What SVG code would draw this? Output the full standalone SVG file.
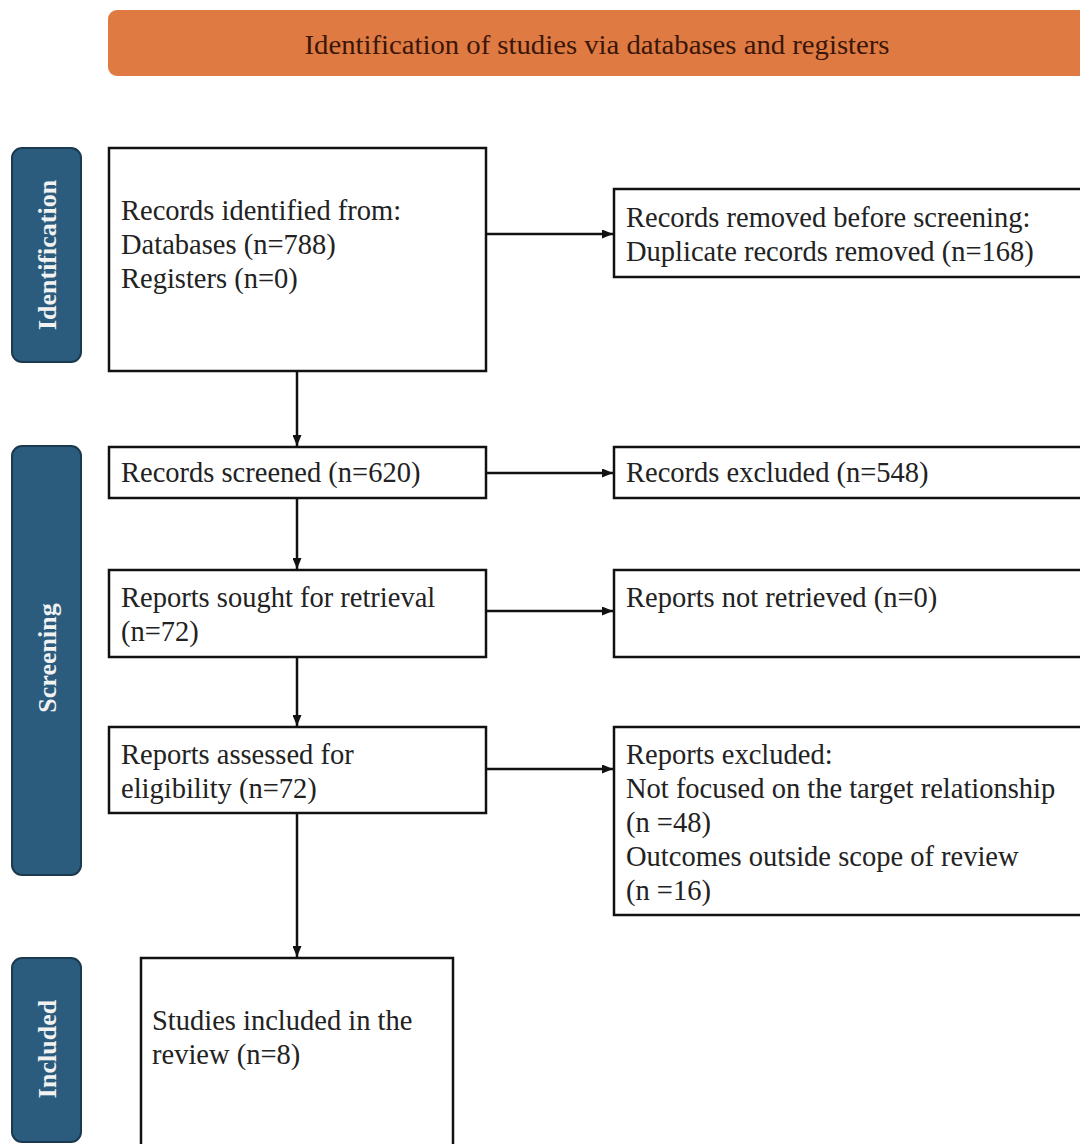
<svg xmlns="http://www.w3.org/2000/svg" width="1080" height="1144" viewBox="0 0 1080 1144">
<defs>
<marker id="ah" markerWidth="11" markerHeight="9" refX="11" refY="4.5" orient="auto" markerUnits="userSpaceOnUse">
<path d="M0,0 L11,4.5 L0,9 Z" fill="#111"/>
</marker>
</defs>
<style>
.box{fill:#fff;stroke:#111;stroke-width:2.5}
.t{font-family:"Liberation Serif","Times New Roman",serif;font-size:28.5px;fill:#222}
.side{fill:#2B5C7E;stroke:#1B3A50;stroke-width:2}
.st{font-family:"Liberation Serif","Times New Roman",serif;font-size:26px;fill:#f2f2f2;font-weight:bold;text-anchor:middle}
.c{stroke:#111;stroke-width:2.5;fill:none;marker-end:url(#ah)}
</style>
<rect width="1080" height="1144" fill="#fff"/>
<g id="banner">
<rect x="108" y="10" width="990" height="66" rx="9" fill="#DF7A43"/>
<text x="597" y="54" text-anchor="middle" font-family="'Liberation Serif','Times New Roman',serif" font-size="28" fill="#3A1608" textLength="585" lengthAdjust="spacingAndGlyphs">Identification of studies via databases and registers</text>
</g>
<g id="phase-identification">
<rect class="side" x="12" y="148" width="69" height="214" rx="10"/>
<text class="st" transform="translate(56,255) rotate(-90)">Identification</text>
</g>
<g id="phase-screening">
<rect class="side" x="12" y="446" width="69" height="429" rx="10"/>
<text class="st" transform="translate(56,658) rotate(-90)">Screening</text>
</g>
<g id="phase-included">
<rect class="side" x="12" y="958" width="69" height="184" rx="10"/>
<text class="st" transform="translate(56,1049) rotate(-90)">Included</text>
</g>
<g id="records-identified">
<rect class="box" x="109" y="148" width="377" height="223"/>
<text class="t" x="121" y="220">Records identified from:</text>
<text class="t" x="121" y="254">Databases (n=788)</text>
<text class="t" x="121" y="288">Registers (n=0)</text>
</g>
<g id="records-removed">
<rect class="box" x="614" y="189" width="480" height="88"/>
<text class="t" x="626" y="227">Records removed before screening:</text>
<text class="t" x="626" y="261">Duplicate records removed (n=168)</text>
</g>
<g id="records-screened">
<rect class="box" x="109" y="447" width="377" height="51"/>
<text class="t" x="121" y="482">Records screened (n=620)</text>
</g>
<g id="records-excluded">
<rect class="box" x="614" y="447" width="480" height="51"/>
<text class="t" x="626" y="482">Records excluded (n=548)</text>
</g>
<g id="reports-sought">
<rect class="box" x="109" y="570" width="377" height="87"/>
<text class="t" x="121" y="607">Reports sought for retrieval</text>
<text class="t" x="121" y="641">(n=72)</text>
</g>
<g id="reports-not-retrieved">
<rect class="box" x="614" y="570" width="480" height="87"/>
<text class="t" x="626" y="607">Reports not retrieved (n=0)</text>
</g>
<g id="reports-assessed">
<rect class="box" x="109" y="727" width="377" height="86"/>
<text class="t" x="121" y="764">Reports assessed for</text>
<text class="t" x="121" y="798">eligibility (n=72)</text>
</g>
<g id="reports-excluded">
<rect class="box" x="614" y="727" width="480" height="188"/>
<text class="t" x="626" y="764">Reports excluded:</text>
<text class="t" x="626" y="798">Not focused on the target relationship</text>
<text class="t" x="626" y="832">(n =48)</text>
<text class="t" x="626" y="866">Outcomes outside scope of review</text>
<text class="t" x="626" y="900">(n =16)</text>
</g>
<g id="studies-included">
<rect class="box" x="141" y="958" width="312" height="200"/>
<text class="t" x="152" y="1030">Studies included in the</text>
<text class="t" x="152" y="1064">review (n=8)</text>
</g>
<g id="connectors">
<line class="c" x1="297" y1="371" x2="297" y2="446"/>
<line class="c" x1="297" y1="498" x2="297" y2="569"/>
<line class="c" x1="297" y1="657" x2="297" y2="726"/>
<line class="c" x1="297" y1="813" x2="297" y2="957"/>
<line class="c" x1="486" y1="234" x2="613" y2="234"/>
<line class="c" x1="486" y1="473" x2="613" y2="473"/>
<line class="c" x1="486" y1="611" x2="613" y2="611"/>
<line class="c" x1="486" y1="769" x2="613" y2="769"/>
</g>
</svg>
